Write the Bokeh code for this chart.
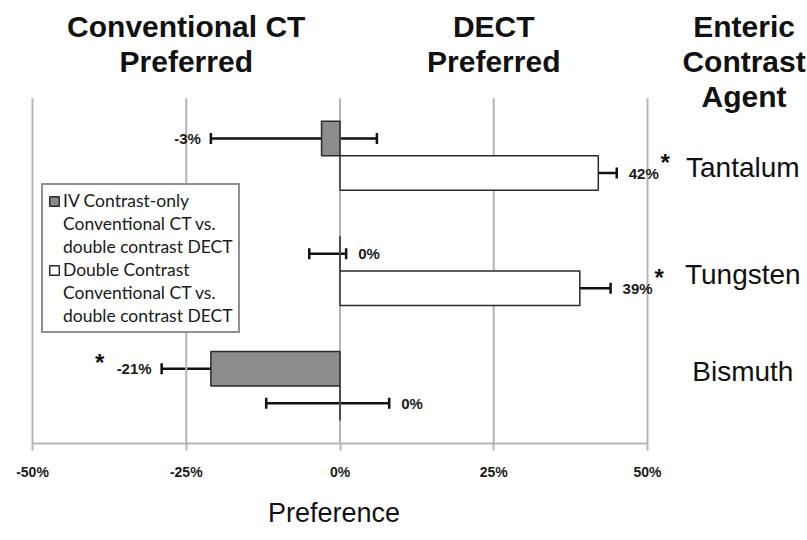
from bokeh.plotting import figure
from bokeh.models import (ColumnDataSource, Whisker, TeeHead, LabelSet, Label,
                          Legend, LegendItem, FixedTicker, Title)
from bokeh.core.properties import value
from bokeh.embed import file_html
from bokeh.resources import INLINE

# ---- data (top to bottom) ----
categories = ["Tantalum", "Tungsten", "Bismuth"]
iv_values = [-3, 0, -21]
iv_lower = [-21, -5, -29]
iv_upper = [6, 1, -8]
dc_values = [42, 39, 0]
dc_lower = [36, 30, -12]
dc_upper = [45, 44, 8]
iv_sig = [False, False, True]
dc_sig = [True, True, False]
x_ticks = [-50, -25, 0, 25, 50]
x_tick_labels = ["-50%", "-25%", "0%", "25%", "50%"]
x_title = "Preference"
iv_lines = ["IV Contrast-only", "Conventional CT vs.", "double contrast DECT"]
dc_lines = ["Double Contrast", "Conventional CT vs.", "double contrast DECT"]
header_groups = [(-25, ["Conventional CT", "Preferred"]),
                 (25, ["DECT", "Preferred"]),
                 (65.7, ["Enteric", "Contrast", "Agent"])]

n = len(categories)
centers = [n - i - 0.5 for i in range(n)]
half = 0.15
bar_h = 0.3
FONT = "Liberation Sans"

def series_source(values, lower, upper, sig, shift):
    ys = [c + shift for c in centers]
    neg = [v < 0 for v in values]
    anchor = [lo if ng else up for lo, up, ng in zip(lower, upper, neg)]
    txt = [f"{v}%" for v in values]
    off = [(-10 if ng else 12) for ng in neg]
    star_off = [-(24 + len(t) * 9.5) if ng else (20 + len(t) * 9.5)
                for t, ng in zip(txt, neg)]
    star_dy = [6 if ng else 11 for ng in neg]
    return dict(y=ys, value=values, lower=lower, upper=upper, anchor=anchor,
                text=txt, off=off, neg=neg, sig=sig, star_off=star_off,
                star_dy=star_dy, star=["*"] * len(values))

iv_data = series_source(iv_values, iv_lower, iv_upper, iv_sig, half)
dc_data = series_source(dc_values, dc_lower, dc_upper, dc_sig, -half)
iv_src = ColumnDataSource(iv_data)
dc_src = ColumnDataSource(dc_data)

W, H = 807, 540
BOTTOM = 96
px_per_pct = 6.15
px_per_cat = 115.33
x_min = -50 - 32 / px_per_pct
x_max = x_min + W / px_per_pct
y_max = (H - BOTTOM) / px_per_cat

p = figure(width=W, height=H, x_range=(x_min, x_max), y_range=(0, y_max),
           output_backend="svg", toolbar_location=None, y_axis_location=None,
           min_border_left=0, min_border_right=0, min_border_top=0,
           min_border_bottom=BOTTOM)
p.outline_line_color = None
p.grid.visible = False

# vertical gridlines restricted to the plotting area
p.segment(x0=x_ticks, x1=x_ticks, y0=[0] * len(x_ticks), y1=[n] * len(x_ticks),
          line_color="#b5b5b5", line_width=2)

ax = p.xaxis[0]
ax.ticker = FixedTicker(ticks=x_ticks)
ax.major_label_overrides = {t: l for t, l in zip(x_ticks, x_tick_labels)}
ax.bounds = (-50, 50)
ax.axis_line_color = "#b5b5b5"
ax.axis_line_width = 2
ax.major_tick_line_color = "#b5b5b5"
ax.major_tick_line_width = 2
ax.major_tick_out = 7
ax.major_tick_in = 0
ax.minor_tick_out = 0
ax.minor_tick_in = 0
ax.major_label_text_font = FONT
ax.major_label_text_font_style = "bold"
ax.major_label_text_font_size = "14px"
ax.major_label_text_color = "#1a1a1a"
ax.major_label_standoff = 13

# axis title under the axis, roughly centred on the 0% line like the reference
title_px = 27
title_width_est = 4.891 * title_px
zero_px = (0 - x_min) * px_per_pct
p.add_layout(Title(text=x_title, align="left", offset=zero_px - 6 - title_width_est / 2,
                   vertical_align="bottom",
                   text_font=FONT, text_font_style="normal",
                   text_font_size=f"{title_px}px", text_color="#111111",
                   standoff=26), "below")

r_iv = p.hbar(y="y", left=0, right="value", height=bar_h, source=iv_src,
              fill_color="#8c8c8c", line_color="#2a2a2a", line_width=1.5)
r_dc = p.hbar(y="y", left=0, right="value", height=bar_h, source=dc_src,
              fill_color="white", line_color="#2a2a2a", line_width=1.5)

for src in (iv_src, dc_src):
    p.add_layout(Whisker(source=src, base="y", lower="lower", upper="upper",
                         dimension="width", line_color="#111111", line_width=2.5,
                         lower_head=TeeHead(size=11, line_width=2.5, line_color="#111111"),
                         upper_head=TeeHead(size=11, line_width=2.5, line_color="#111111")))

def add_value_labels(d):
    for side in (True, False):
        idx = [i for i, ng in enumerate(d["neg"]) if ng == side]
        if not idx:
            continue
        sub = ColumnDataSource({k: [d[k][i] for i in idx] for k in d})
        p.add_layout(LabelSet(x="anchor", y="y", text="text", x_offset="off", source=sub,
                              text_align="right" if side else "left", text_baseline="middle",
                              text_font=value(FONT), text_font_style="bold",
                              text_font_size="15px", text_color="#1a1a1a"))
        sidx = [i for i in idx if d["sig"][i]]
        if sidx:
            ssub = ColumnDataSource({k: [d[k][i] for i in sidx] for k in d})
            p.add_layout(LabelSet(x="anchor", y="y", text="star", x_offset="star_off",
                                  y_offset="star_dy", source=ssub, text_align="center",
                                  text_baseline="middle", text_font=value(FONT),
                                  text_font_style="bold", text_font_size="24px",
                                  text_color="#111111"))

add_value_labels(iv_data)
add_value_labels(dc_data)

# category labels on the right
cat_y = [2.40, 1.465, 0.625]
cat_src = ColumnDataSource(dict(x=[65.5] * n, y=cat_y, text=categories))
p.add_layout(LabelSet(x="x", y="y", text="text", source=cat_src,
                      text_align="center", text_baseline="middle",
                      text_font=value(FONT), text_font_size="28px",
                      text_color="#111111"))

# header labels above the plot
line_y = [3.624, 3.321, 3.012]
for hx, lines in header_groups:
    for k, t in enumerate(lines):
        p.add_layout(Label(x=hx, y=line_y[k], text=t, text_align="center",
                           text_baseline="middle", text_font=FONT,
                           text_font_style="bold", text_font_size="30px",
                           text_color="#111111"))

# legend: one entry per text line, glyph only on the first line of each series
dummy = p.hbar(y=[], left=[], right=[], height=bar_h, fill_alpha=0, line_alpha=0)
items = []
for first_r, lines in ((r_iv, iv_lines), (r_dc, dc_lines)):
    for k, t in enumerate(lines):
        items.append(LegendItem(label=t, renderers=[first_r if k == 0 else dummy]))
legend = Legend(items=items, location=(41, 110), glyph_width=12, glyph_height=12,
                label_text_font="Lato", label_text_font_size="17.5px",
                label_text_color="#1a1a1a",
                label_height=18, label_standoff=3, spacing=2, padding=5, margin=0,
                border_line_color="#222222", border_line_width=2,
                background_fill_alpha=1.0)
p.add_layout(legend)

open("out.html", "w").write(file_html(p, INLINE))
